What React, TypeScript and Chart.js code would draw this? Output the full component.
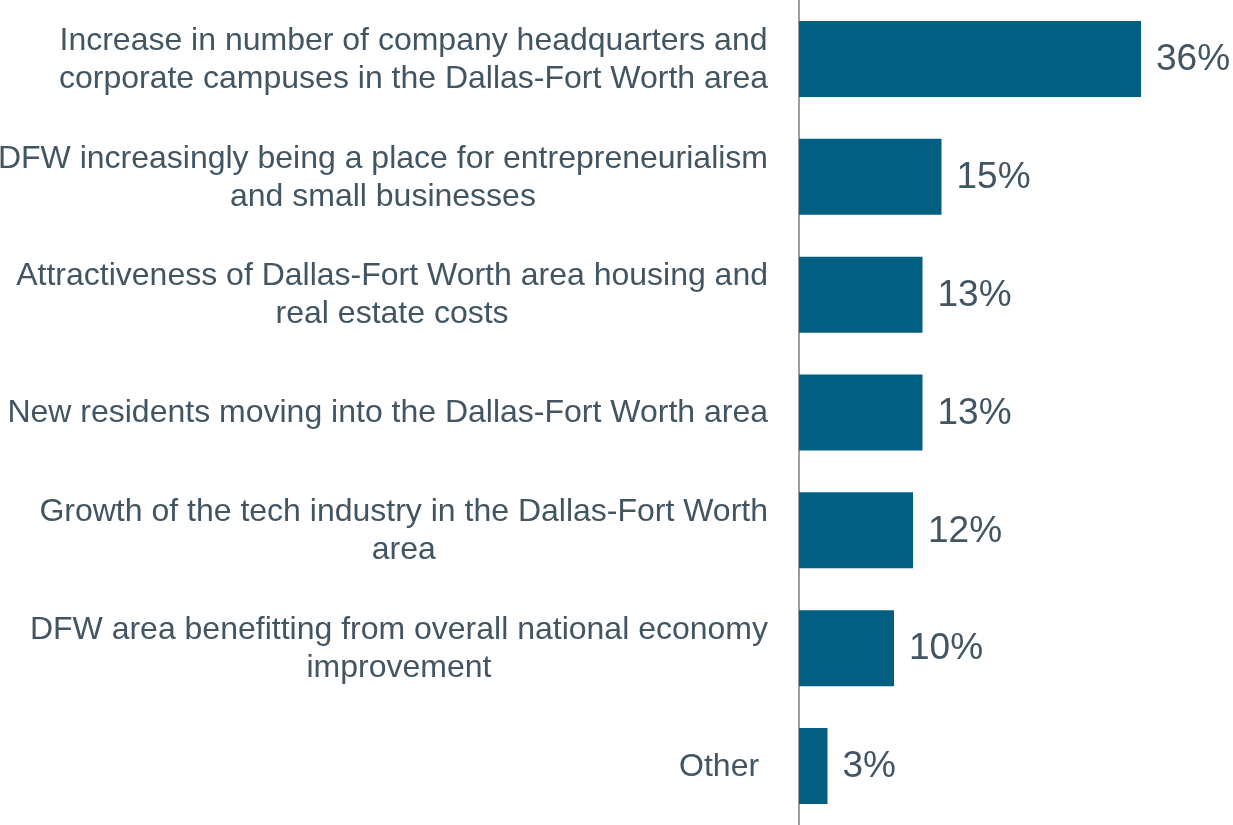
import React, { useEffect, useRef } from "react";
import { Chart, registerables } from "chart.js";

Chart.register(...registerables);

const categories: string[][] = [
  ["Increase in number of company headquarters and", "corporate campuses in the Dallas-Fort Worth area"],
  ["DFW increasingly being a place for entrepreneurialism", "and small businesses"],
  ["Attractiveness of Dallas-Fort Worth area housing and", "real estate costs"],
  ["New residents moving into the Dallas-Fort Worth area"],
  ["Growth of the tech industry in the Dallas-Fort Worth", "area"],
  ["DFW area benefitting from overall national economy", "improvement"],
  ["Other "],
];
const values: number[] = [36, 15, 13, 13, 12, 10, 3];
const valueLabels: string[] = ["36%", "15%", "13%", "13%", "12%", "10%", "3%"];

const BAR_COLOR = "#035F82";
const TEXT_COLOR = "#425563";
const AXIS_COLOR = "#9A9C9F";
const FONT = "'Liberation Sans', Arial, sans-serif";

const labelPlugin = {
  id: "customLabels",
  afterDraw(chart: any) {
    const ctx = chart.ctx;
    const yScale = chart.scales.y;
    const meta = chart.getDatasetMeta(0);
    ctx.save();
    // category labels
    ctx.font = `32px ${FONT}`;
    ctx.fillStyle = TEXT_COLOR;
    ctx.textBaseline = "middle";
    ctx.textAlign = "center";
    const right = chart.chartArea.left - 31;
    const lineH = 38;
    categories.forEach((lines, i) => {
      const cy = yScale.getPixelForValue(i) + 1;
      const maxW = Math.max(...lines.map((l) => ctx.measureText(l).width));
      const cx = right - maxW / 2;
      const startY = cy - ((lines.length - 1) * lineH) / 2;
      lines.forEach((l, j) => {
        ctx.fillText(l, cx, startY + j * lineH);
      });
    });
    // value labels
    ctx.font = `37px ${FONT}`;
    ctx.textAlign = "left";
    meta.data.forEach((bar: any, i: number) => {
      ctx.fillText(valueLabels[i], bar.x + 15, bar.y + 1);
    });
    ctx.restore();
  },
};

export default function App() {
  const ref = useRef<HTMLCanvasElement>(null);
  useEffect(() => {
    document.body.style.margin = "0";
    const chart = new Chart(ref.current!, {
      type: "bar",
      data: {
        labels: categories.map((c) => c.join(" ")),
        datasets: [
          {
            data: values,
            backgroundColor: BAR_COLOR,
            borderWidth: 0,
            categoryPercentage: 1,
            barPercentage: 0.645,
          },
        ],
      },
      options: {
        indexAxis: "y",
        animation: false,
        responsive: false,
        maintainAspectRatio: false,
        layout: { padding: { top: 0, bottom: 0, left: 0, right: 54 } },
        plugins: { legend: { display: false }, tooltip: { enabled: false } },
        scales: {
          x: { display: false, min: 0, max: 40 },
          y: {
            display: true,
            grid: { display: false, drawTicks: false },
            border: { display: true, color: AXIS_COLOR, width: 2 },
            ticks: { display: false },
            afterFit(scale: any) {
              scale.width = 799;
            },
          },
        },
      },
      plugins: [labelPlugin],
    });
    return () => chart.destroy();
  }, []);
  return <canvas ref={ref} width={1233} height={825} style={{ display: "block" }} />;
}
